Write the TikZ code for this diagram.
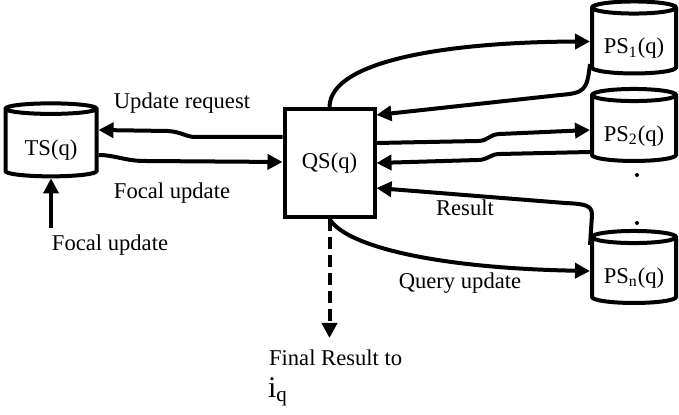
\documentclass[tikz,border=0pt]{standalone}
\usepackage{fontspec}
\setmainfont{Liberation Serif}
\usetikzlibrary{shapes.geometric,arrows.meta}

\begin{document}
\begin{tikzpicture}[x=0.5pt,y=-0.5pt,
    every node/.style={font=\fontsize{11.3}{13.5}\selectfont},
    store/.style={cylinder, shape border rotate=90, draw, line width=2pt, aspect=0.2,
      minimum width=42pt, minimum height=36pt, inner sep=0pt, text height=15pt, text depth=2.5pt},
    flow/.style={line width=2pt, -{Triangle[length=7.5pt,width=7.5pt]}}]
    \useasboundingbox (0,0) rectangle (679,415);
    % stores and query server
    \node[store, minimum width=45.5pt, minimum height=36.5pt] (ts) at (51,143.5) {TS(q)};
    \node[draw, line width=2pt, minimum width=45pt, minimum height=54pt] (qs) at (329.5,163) {QS(q)};
    \node[store] (ps1) at (634,41.5) {PS\textsubscript{1}(q)};
    \node[store] (ps2) at (634,129) {PS\textsubscript{2}(q)};
    \node[store] (psn) at (634,271) {PS\textsubscript{n}(q)};
    \fill (637,175) circle (1pt);
    \fill (637,223) circle (1pt);
    % labels
    \node (upreq) at (182,103) {Update request};
    \node (focal) at (172,193) {Focal update};
    \node (focin) at (110,245) {Focal update};
    \node (res) at (465,208) {Result};
    \node (qupd) at (460,283) {Query update};
    \node[anchor=west] (final) at (262,358) {Final Result to};
    \node[anchor=west, font=\fontsize{15}{18}\selectfont] (iq) at (261,392) {i\textsubscript{q}};
    \coordinate (out) at (qs.south |- 0,338);
    % TS <-> QS
    \draw[flow] (focin.north -| ts.south) -- (ts.south);
    \draw[flow] (qs.west |- 0,137) -- (195,137) .. controls (186,137) and (182,132) .. (168,131) -- (ts.east |- 0,130);
    \draw[flow] (ts.east |- 0,155) .. controls (115,155) and (125,161) .. (145,161) -- (qs.west |- 0,162);
    % QS <-> PS
    \draw[flow] (qs.north) .. controls (330,60) and (450,42) .. (ps1.west);
    \draw[flow] (ps1.west |- 0,64) .. controls (587,90) and (585,93) .. (560,95) -- (qs.east |- 0,115);
    \draw[flow] (qs.east |- 0,143) -- (478,141) .. controls (488,141) and (490,134) .. (500,134) -- (ps2.west |- 0,130);
    \draw[flow] (ps2.west |- 0,152) -- (500,154) .. controls (490,154) and (488,160) .. (478,160) -- (qs.east |- 0,163);
    \draw[flow] (psn.west |- 0,245) -- (592,215) .. controls (592,205) and (585,204) .. (565,203) -- (qs.east |- 0,188);
    \draw[flow] (qs.south) .. controls (345,245) and (430,268) .. (psn.west);
    \draw[flow, dash pattern=on 6pt off 3pt] (qs.south) -- (out);
\end{tikzpicture}
\end{document}
